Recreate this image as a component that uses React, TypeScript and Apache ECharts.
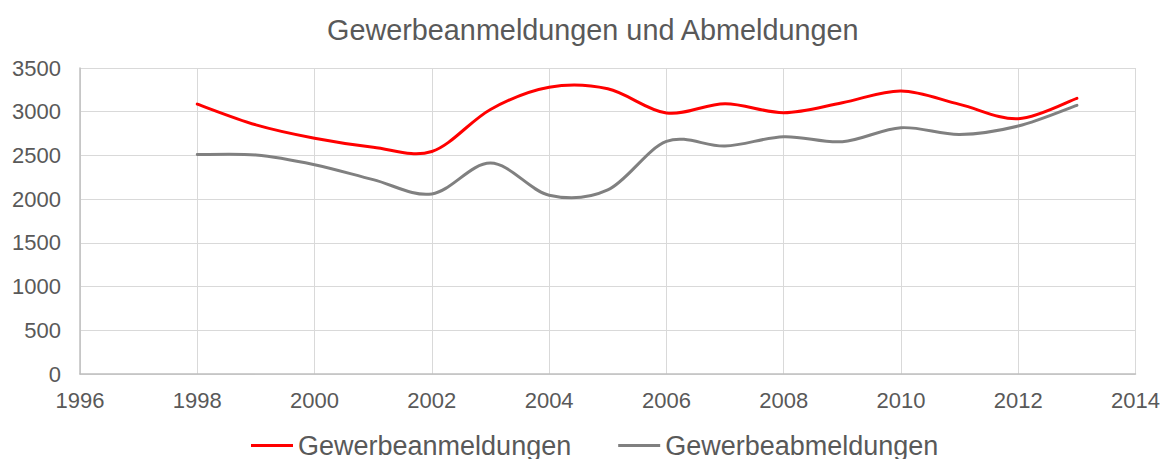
import React, { useEffect, useRef } from "react";
import * as echarts from "echarts";

const years = [1998, 1999, 2000, 2001, 2002, 2003, 2004, 2005, 2006, 2007, 2008, 2009, 2010, 2011, 2012, 2013];
const anmeldungen = [3087, 2850, 2697, 2594, 2545, 3026, 3280, 3262, 2985, 3092, 2989, 3103, 3237, 3084, 2920, 3153];
const abmeldungen = [2510, 2505, 2394, 2223, 2060, 2413, 2045, 2105, 2660, 2607, 2714, 2657, 2817, 2740, 2836, 3073];

const textColor = "#595959";
const font = "Arial, 'Liberation Sans', sans-serif";

function smoothRender(vals: number[], color: string) {
  return (params: any, api: any) => {
    if (params.dataIndex !== 0) return { type: "group", children: [] };
    const pts = years.map((y, i) => api.coord([y, vals[i]]));
    const n = pts.length;
    let d = `M${pts[0][0]},${pts[0][1]}`;
    for (let i = 0; i < n - 1; i++) {
      const p0 = pts[Math.max(i - 1, 0)];
      const p1 = pts[i];
      const p2 = pts[i + 1];
      const p3 = pts[Math.min(i + 2, n - 1)];
      const c1x = p1[0] + (p2[0] - p0[0]) / 6;
      const c1y = p1[1] + (p2[1] - p0[1]) / 6;
      const c2x = p2[0] - (p3[0] - p1[0]) / 6;
      const c2y = p2[1] - (p3[1] - p1[1]) / 6;
      d += ` C${c1x},${c1y} ${c2x},${c2y} ${p2[0]},${p2[1]}`;
    }
    return {
      type: "path",
      shape: { pathData: d },
      style: { stroke: color, lineWidth: 3, fill: "none", lineJoin: "round", lineCap: "round" },
    };
  };
}

export default function App() {
  const ref = useRef<HTMLDivElement>(null);
  useEffect(() => {
    if (!ref.current) return;
    const chart = echarts.init(ref.current, null, { renderer: "svg" });
    chart.setOption({
      animation: false,
      title: {
        text: "Gewerbeanmeldungen und Abmeldungen",
        left: 322,
        top: 10,
        textStyle: { color: textColor, fontSize: 28.8, fontWeight: "normal", fontFamily: font },
      },
      legend: {
        top: 427,
        left: 246,
        itemWidth: 42,
        itemHeight: 3,
        itemGap: 47,
        textStyle: { color: textColor, fontSize: 27, fontFamily: font },
        data: [
          { name: "Gewerbeanmeldungen", icon: "rect" },
          { name: "Gewerbeabmeldungen", icon: "rect" },
        ],
      },
      grid: { left: 80, right: 26, top: 68, bottom: 85 },
      xAxis: {
        type: "value",
        min: 1996,
        max: 2014,
        interval: 2,
        axisLine: { show: true, lineStyle: { color: "#BFBFBF", width: 1.5 } },
        axisTick: { show: false },
        axisLabel: { color: textColor, fontSize: 22, fontFamily: font, margin: 15, formatter: (v: number) => String(v) },
        splitLine: { show: true, lineStyle: { color: "#D9D9D9", width: 1 } },
      },
      yAxis: {
        type: "value",
        min: 0,
        max: 3500,
        interval: 500,
        axisLine: { show: true, lineStyle: { color: "#BFBFBF", width: 1.5 } },
        axisTick: { show: false },
        axisLabel: { color: textColor, fontSize: 22, fontFamily: font, margin: 19, formatter: (v: number) => String(v) },
        splitLine: { show: true, lineStyle: { color: "#D9D9D9", width: 1 } },
      },
      series: [
        {
          name: "Gewerbeanmeldungen",
          type: "custom",
          itemStyle: { color: "#FF0000" },
          renderItem: smoothRender(anmeldungen, "#FF0000"),
          data: years.map((y, i) => [y, anmeldungen[i]]),
        },
        {
          name: "Gewerbeabmeldungen",
          type: "custom",
          itemStyle: { color: "#808080" },
          renderItem: smoothRender(abmeldungen, "#808080"),
          data: years.map((y, i) => [y, abmeldungen[i]]),
        },
      ],
    });
    return () => chart.dispose();
  }, []);
  return <div ref={ref} style={{ position: "absolute", left: 0, top: 0, width: 1163, height: 459 }} />;
}
